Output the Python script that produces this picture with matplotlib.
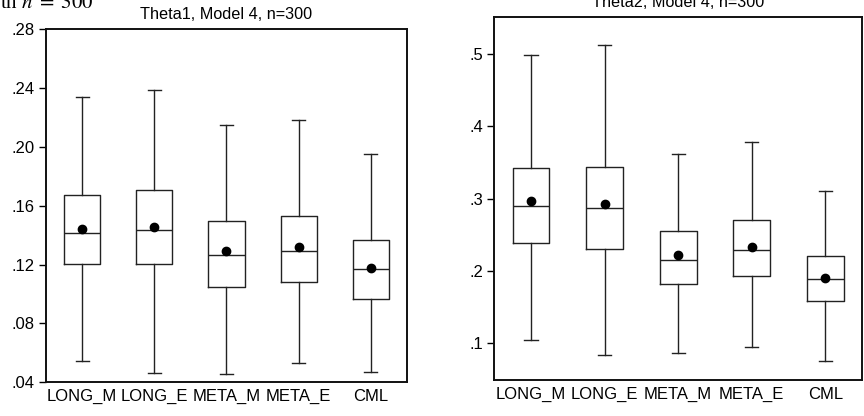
import numpy as np
import matplotlib
matplotlib.use("Agg")
import matplotlib.pyplot as plt
from matplotlib.ticker import FixedLocator, FixedFormatter

plt.rcParams['font.family'] = ['Liberation Sans', 'DejaVu Sans']
plt.rcParams['mathtext.fontset'] = 'stix'

methods = ["LONG_M", "LONG_E", "META_M", "META_E", "CML"]

# theta1 panel
t1_whislo = [0.0545, 0.0465, 0.0456, 0.0529, 0.0470]
t1_q1     = [0.1204, 0.1204, 0.1050, 0.1079, 0.0966]
t1_med    = [0.1416, 0.1437, 0.1263, 0.1294, 0.1170]
t1_mean   = [0.1441, 0.1453, 0.1290, 0.1317, 0.1179]
t1_q3     = [0.1670, 0.1704, 0.1496, 0.1528, 0.1365]
t1_whishi = [0.2340, 0.2386, 0.2148, 0.2184, 0.1953]
t1_ticks  = [0.04, 0.08, 0.12, 0.16, 0.20, 0.24, 0.28]
t1_labels = [".04", ".08", ".12", ".16", ".20", ".24", ".28"]

# theta2 panel
t2_whislo = [0.1046, 0.0830, 0.0862, 0.0945, 0.0759]
t2_q1     = [0.2384, 0.2310, 0.1817, 0.1927, 0.1585]
t2_med    = [0.2905, 0.2868, 0.2157, 0.2291, 0.1890]
t2_mean   = [0.2966, 0.2924, 0.2218, 0.2337, 0.1908]
t2_q3     = [0.3430, 0.3436, 0.2550, 0.2702, 0.2204]
t2_whishi = [0.4990, 0.5125, 0.3616, 0.3790, 0.3104]
t2_ticks  = [0.1, 0.2, 0.3, 0.4, 0.5]
t2_labels = [".1", ".2", ".3", ".4", ".5"]


def make_stats(lo, q1, med, mean, q3, hi):
    out = []
    for i in range(len(methods)):
        out.append(dict(label=methods[i], whislo=lo[i], q1=q1[i], med=med[i],
                        mean=mean[i], q3=q3[i], whishi=hi[i], fliers=[]))
    return out


def draw(ax, stats, title, ylim, ticks, labels):
    lc = '#222222'
    ax.bxp(stats, positions=range(1, 6), widths=0.5, capwidths=0.18,
           showmeans=True, showfliers=False,
           boxprops=dict(color=lc, lw=1.0),
           medianprops=dict(color=lc, lw=1.0),
           whiskerprops=dict(color=lc, lw=1.0),
           capprops=dict(color=lc, lw=1.0),
           meanprops=dict(marker='o', markerfacecolor='black',
                          markeredgecolor='black', markersize=6))
    ax.set_xlim(0.5, 5.5)
    ax.set_ylim(*ylim)
    ax.yaxis.set_major_locator(FixedLocator(ticks))
    ax.yaxis.set_major_formatter(FixedFormatter(labels))
    ax.tick_params(axis='y', length=5, width=1, pad=3, labelsize=12)
    ax.tick_params(axis='x', length=0, pad=5, labelsize=12)
    for s in ax.spines.values():
        s.set_linewidth(1.4)
        s.set_color('#111111')
    ax.set_title(title, fontsize=11.7, pad=7.5)


fig = plt.figure(figsize=(8.64, 4.16), dpi=100)
ax1 = fig.add_axes([0.0532, 0.081, 0.4178, 0.8493])
ax2 = fig.add_axes([0.5721, 0.0865, 0.4256, 0.8719])

draw(ax1, make_stats(t1_whislo, t1_q1, t1_med, t1_mean, t1_q3, t1_whishi),
     "Theta1, Model 4, n=300", (0.04, 0.28), t1_ticks, t1_labels)
draw(ax2, make_stats(t2_whislo, t2_q1, t2_med, t2_mean, t2_q3, t2_whishi),
     "Theta2, Model 4, n=300", (0.049, 0.551), t2_ticks, t2_labels)

# cropped caption fragment at the top left
fig.text(0.0, 1 - 7.5 / 416, r"th $n\;=\;300$", fontsize=15,
         family='Liberation Serif', va='baseline', ha='left')

fig.savefig("out.png", dpi=100)
